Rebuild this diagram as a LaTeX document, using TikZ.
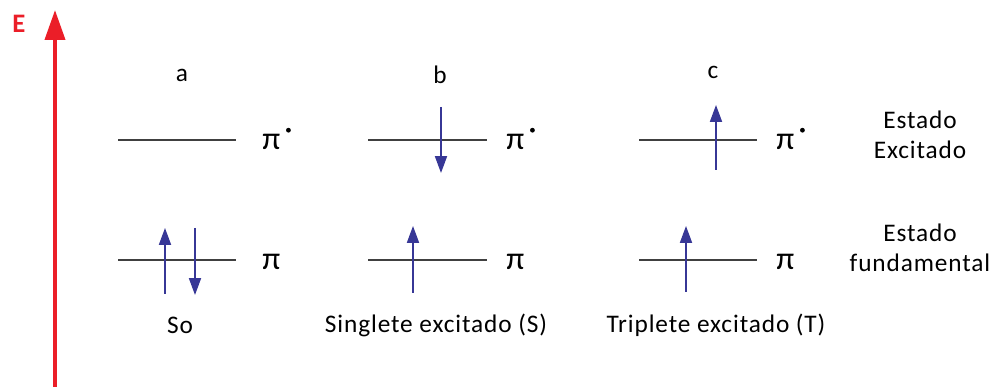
\documentclass[tikz,border=0pt]{standalone}
\usepackage{fontspec}
\setmainfont{Carlito}[LetterSpace=3.5]
\usepackage{xcolor}
\usetikzlibrary{arrows.meta}
\definecolor{spinblue}{RGB}{55,55,150}
\definecolor{axisred}{RGB}{235,30,40}

\begin{document}
\begin{tikzpicture}[level/.style={line width=1.3pt,black!75},
spin/.style={-{Triangle[width=0.3cm,length=0.42cm]},line width=1.1pt,spinblue},
orb/.style={anchor=west,inner sep=0pt,font=\fontsize{23}{24}\selectfont},
every node/.style={font=\fontsize{18}{21.5}\selectfont}]
\useasboundingbox (0,0) rectangle (24.725,9.675);
% energy axis
\draw[-{Triangle[width=0.5cm,length=0.75cm]},line width=2.8pt,axisred](1.375,0)--(1.375,9.425);
\node[axisred,font=\fontsize{19}{21}\selectfont\bfseries] (E) at (0.475,9.075) {E};
% column titles
\node (cola) at (4.55,7.8) {a};
\node (colb) at (11.0,7.8) {b};
\node (colc) at (17.825,7.875) {c};
% levels
\draw[level](2.95,6.175)--(5.9,6.175);
\draw[level](2.95,3.175)--(5.9,3.175);
\draw[level](9.2,6.175)--(12.175,6.175);
\draw[level](9.2,3.175)--(12.175,3.175);
\draw[level](15.975,6.175)--(18.925,6.175);
\draw[level](15.975,3.175)--(18.925,3.175);
% orbital labels
\node[orb] (pisa) at (6.55,6.12) {π};
\node[orb] (pia) at (6.55,3.12) {π};
\node[orb] (pisb) at (12.65,6.12) {π};
\node[orb] (pib) at (12.65,3.12) {π};
\node[orb] (pisc) at (19.4,6.12) {π};
\node[orb] (pic) at (19.4,3.12) {π};
\fill (pisa.east) ++(0.2,0.3) circle[radius=0.06];
\fill (pisb.east) ++(0.2,0.3) circle[radius=0.06];
\fill (pisc.east) ++(0.2,0.3) circle[radius=0.06];
% electrons
\draw[spin](4.125,2.325)--(4.125,3.975);
\draw[spin](4.875,3.975)--(4.875,2.3);
\draw[spin](11.025,7.0)--(11.025,5.35);
\draw[spin](10.325,2.35)--(10.325,4.025);
\draw[spin](17.9,5.425)--(17.9,7.05);
\draw[spin](17.15,2.375)--(17.15,4.025);
% states
\node (so) at (4.5,1.55) {So};
\node (sing) at (10.9,1.55) {Singlete excitado (S)};
\node (trip) at (17.9,1.55) {Triplete excitado (T)};
\node[align=center] (exc) at (23.0,6.3) {Estado\\Excitado};
\node[align=center] (fund) at (23.0,3.475) {Estado\\fundamental};
\end{tikzpicture}
\end{document}
